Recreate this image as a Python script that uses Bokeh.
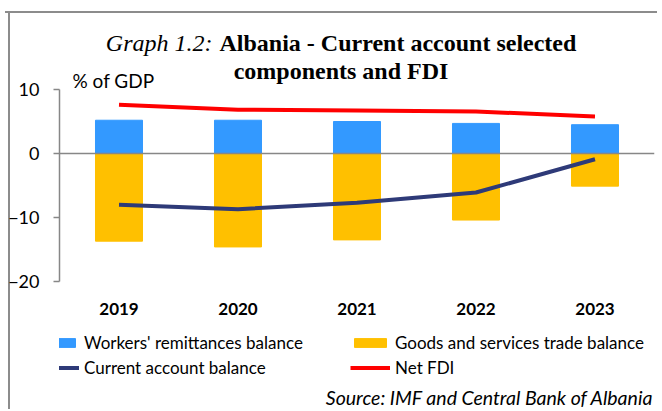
from bokeh.plotting import figure
from bokeh.models import (ColumnDataSource, FactorRange, FixedTicker, Span, Label,
                          Legend, LegendItem)
from bokeh.embed import file_html
from bokeh.resources import INLINE

years = ["2019", "2020", "2021", "2022", "2023"]
remittances = [5.2, 5.2, 5.0, 4.7, 4.5]
trade = [-13.7, -14.6, -13.5, -10.4, -5.1]
current_account = [-8.0, -8.7, -7.7, -6.1, -0.9]
net_fdi = [7.6, 6.85, 6.7, 6.55, 5.8]
y_ticks = [-20, -10, 0, 10]

SANS = "Lato"
SERIF = "Liberation Serif"
GRAY = "#878787"
FRAME_GRAY = "#8c8c8c"

src = ColumnDataSource(dict(year=years, remit=remittances, trade=trade,
                            ca=current_account, fdi=net_fdi))

# the plot frame spans the whole height (title/legend area included);
# the value axis itself is bounded to -20..10
p = figure(width=652, height=398, x_range=FactorRange(*years, range_padding=0),
           y_range=(-40.3125, 21.875), output_backend="svg", toolbar_location=None,
           min_border_left=54, min_border_right=3, min_border_top=0, min_border_bottom=0)
# outer chart box: top edge as a CSS border, left edge as a thin background stripe
p.styles = {"margin-left": "5px", "margin-top": "11px",
            "border-top": "2px solid " + FRAME_GRAY,
            "background-color": "white",
            "background-image": "linear-gradient(%s, %s)" % (FRAME_GRAY, FRAME_GRAY),
            "background-size": "2px 100%",
            "background-position": "3px 0px",
            "background-repeat": "no-repeat"}
p.outline_line_color = None
p.xgrid.visible = False
p.ygrid.visible = False
p.background_fill_color = "white"
p.border_fill_color = None

r_remit = p.vbar(x="year", top="remit", bottom=0, width=0.395, color="#3399FF", source=src)
r_trade = p.vbar(x="year", top=0, bottom="trade", width=0.395, color="#FFC000", source=src)
r_ca = p.line(x="year", y="ca", line_color="#2E3A78", line_width=4, source=src)
r_fdi = p.line(x="year", y="fdi", line_color="#FF0000", line_width=4, source=src)

p.add_layout(Span(location=0, dimension="width", line_color=GRAY, line_width=1.5))

# y axis
p.yaxis.ticker = FixedTicker(ticks=y_ticks)
p.yaxis.bounds = (-20, 10)
p.yaxis.axis_line_color = GRAY
p.yaxis.axis_line_width = 1.5
p.yaxis.major_tick_line_color = GRAY
p.yaxis.major_tick_line_width = 1.5
p.yaxis.major_tick_out = 6
p.yaxis.major_tick_in = 0
p.yaxis.minor_tick_line_color = None
p.yaxis.major_label_standoff = 14
p.yaxis.major_label_text_font = SANS
p.yaxis.major_label_text_font_size = "18px"
p.yaxis.major_label_text_color = "black"

# x axis: drawn inside the frame just under the -20 level
p.xaxis.fixed_location = -26.7
p.xaxis.axis_line_color = None
p.xaxis.major_tick_line_color = None
p.xaxis.major_tick_out = 0
p.xaxis.major_tick_in = 0
p.xaxis.minor_tick_line_color = None
p.xaxis.major_label_standoff = -21
p.xaxis.major_label_text_font = SANS
p.xaxis.major_label_text_font_style = "bold"
p.xaxis.major_label_text_font_size = "17px"
p.xaxis.major_label_text_color = "black"

# texts (screen coords from frame left / frame bottom)
def lab(text, x, y, style, size, align, font, baseline="alphabetic"):
    return Label(x=x, y=y, x_units="screen", y_units="screen", text=text,
                 text_font=font, text_font_style=style, text_font_size=size,
                 text_align=align, text_baseline=baseline, text_color="black")

p.add_layout(lab("Graph 1.2:", 153, 369, "italic", "24px", "right", SERIF))
p.add_layout(lab("Albania - Current account selected", 160, 369, "bold", "24px", "left", SERIF))
p.add_layout(lab("components and FDI", 281.5, 341, "bold", "24px", "center", SERIF))
p.add_layout(lab("% of GDP", 13, 331, "normal", "19px", "left", SANS, "middle"))
p.add_layout(lab("Source: IMF and Central Bank of Albania", 594, 14, "italic", "19.5px",
                 "right", SANS, "middle"))

def make_legend(items, x, y):
    return Legend(items=items, location=(x, y), orientation="vertical",
                  glyph_width=40, glyph_height=11, label_height=20, label_standoff=5,
                  spacing=4, padding=0, margin=0, border_line_color=None,
                  background_fill_alpha=0, label_text_font=SANS,
                  label_text_font_size="17px", label_text_color="black")

p.add_layout(make_legend([LegendItem(label="Workers' remittances balance", renderers=[r_remit]),
                          LegendItem(label="Current account balance", renderers=[r_ca])],
                         -20, 33))
p.add_layout(make_legend([LegendItem(label="Goods and services trade balance", renderers=[r_trade]),
                          LegendItem(label="Net FDI", renderers=[r_fdi])],
                         291, 33))

open("out.html", "w").write(file_html(p, INLINE))
